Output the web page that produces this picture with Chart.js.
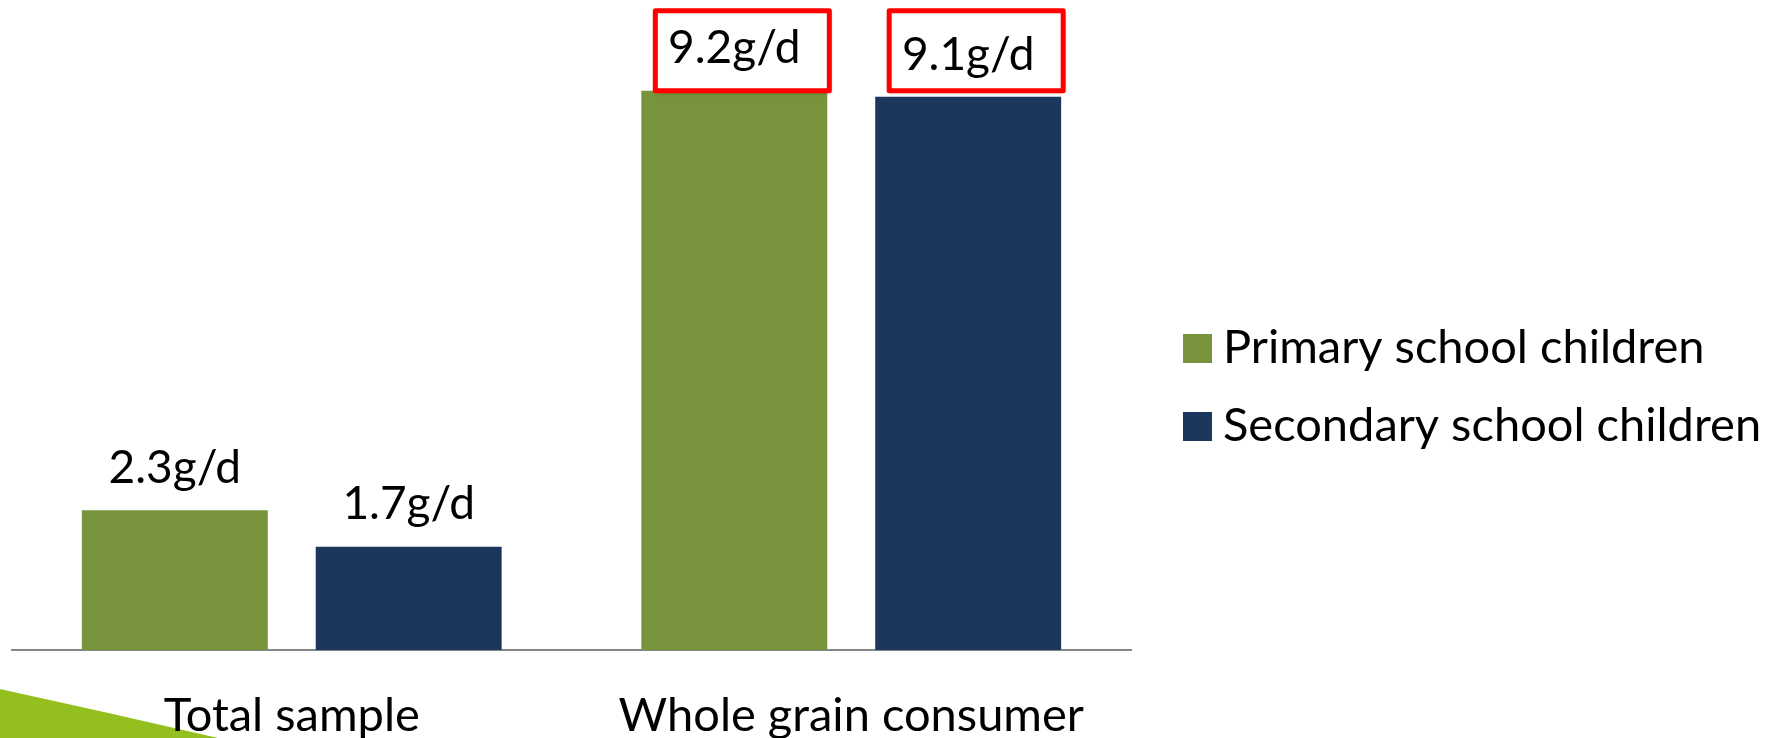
<!DOCTYPE html>
<html>
<head>
<meta charset="utf-8">
<script src="https://cdn.jsdelivr.net/npm/chart.js@4.4.1/dist/chart.umd.min.js"></script>
<style>
  html, body { margin: 0; padding: 0; background: #fff; }
  #wrap { position: relative; width: 1780px; height: 738px; }
</style>
</head>
<body>
<div id="wrap"><canvas id="chart"></canvas></div>
<script>
// data
const categories = ['Total sample', 'Whole grain consumer'];
const seriesNames = ['Primary school children', 'Secondary school children'];
const primaryValues = [2.3, 9.2];
const secondaryValues = [1.7, 9.1];
const seriesColors = ['#77933C', '#1B375E'];
const highlightedCategories = [1];   // labels boxed in red

const FONT = 'Lato, "Open Sans", sans-serif';

// green slide decoration at the bottom-left corner
const slideDecor = {
  id: 'slideDecor',
  beforeDraw(chart){
    const ctx = chart.ctx;
    const h = chart.height;
    ctx.save();
    ctx.fillStyle = '#93C01F';
    ctx.beginPath();
    ctx.moveTo(0, 689);
    ctx.quadraticCurveTo(110, 713, 218, h);
    ctx.lineTo(0, h);
    ctx.closePath();
    ctx.fill();
    ctx.restore();
  }
};

// value labels above bars, red boxes on highlighted group
const valueLabels = {
  id: 'valueLabels',
  afterDatasetsDraw(chart){
    const ctx = chart.ctx;
    ctx.save();
    ctx.font = '46px ' + FONT;
    ctx.textAlign = 'center';
    ctx.textBaseline = 'middle';

    highlightedCategories.forEach(ci => {
      let minTop = Infinity;
      chart.data.datasets.forEach((ds, di) => {
        const bar = chart.getDatasetMeta(di).data[ci];
        minTop = Math.min(minTop, bar.y);
      });
      chart.data.datasets.forEach((ds, di) => {
        const bar = chart.getDatasetMeta(di).data[ci];
        const x = bar.x - 79, y = minTop - 80, w = 174, hh = 80;
        ctx.save();
        ctx.shadowColor = 'rgba(0,0,0,0.35)';
        ctx.shadowBlur = 4;
        ctx.shadowOffsetX = 1;
        ctx.shadowOffsetY = 1;
        ctx.fillStyle = '#fff';
        ctx.fillRect(x, y, w, hh);
        ctx.restore();
        ctx.lineWidth = 5;
        ctx.strokeStyle = '#FF0000';
        ctx.lineJoin = 'round';
        ctx.strokeRect(x, y, w, hh);
      });
    });

    ctx.fillStyle = '#000';
    chart.data.datasets.forEach((ds, di) => {
      chart.getDatasetMeta(di).data.forEach((bar, i) => {
        ctx.fillText(ds.data[i] + 'g/d', bar.x, bar.y - 42);
      });
    });
    ctx.restore();
  }
};

// legend on the right
const sideLegend = {
  id: 'sideLegend',
  afterDraw(chart){
    const ctx = chart.ctx;
    ctx.save();
    ctx.font = '47px ' + FONT;
    ctx.textBaseline = 'middle';
    chart.data.datasets.forEach((ds, i) => {
      const cy = 348 + i * 78;
      ctx.fillStyle = ds.backgroundColor;
      ctx.fillRect(1183, cy - 14, 29, 29);
      ctx.fillStyle = '#000';
      ctx.fillText(ds.label, 1223, cy);
    });
    ctx.restore();
  }
};

const chart = new Chart(document.getElementById('chart'), {
  type: 'bar',
  data: {
    labels: categories,
    datasets: [
      { label: seriesNames[0], data: primaryValues, backgroundColor: seriesColors[0] },
      { label: seriesNames[1], data: secondaryValues, backgroundColor: seriesColors[1] }
    ]
  },
  options: {
    responsive: true,
    maintainAspectRatio: false,
    animation: false,
    categoryPercentage: 0.836,
    barPercentage: 0.795,
    layout: { padding: { left: 12, right: 649, top: 42, bottom: 0 } },
    plugins: { legend: { display: false }, tooltip: { enabled: false } },
    scales: {
      x: {
        grid: { display: false, drawTicks: false },
        border: { display: true, color: '#868686', width: 2 },
        ticks: { color: '#000', padding: 40, font: { family: FONT, size: 47, lineHeight: 1.1 } },
        afterFit(scale){ scale.height = 88; }
      },
      y: { display: false, min: 0, max: 10 }
    }
  },
  plugins: [slideDecor, valueLabels, sideLegend]
});
</script>
</body>
</html>
